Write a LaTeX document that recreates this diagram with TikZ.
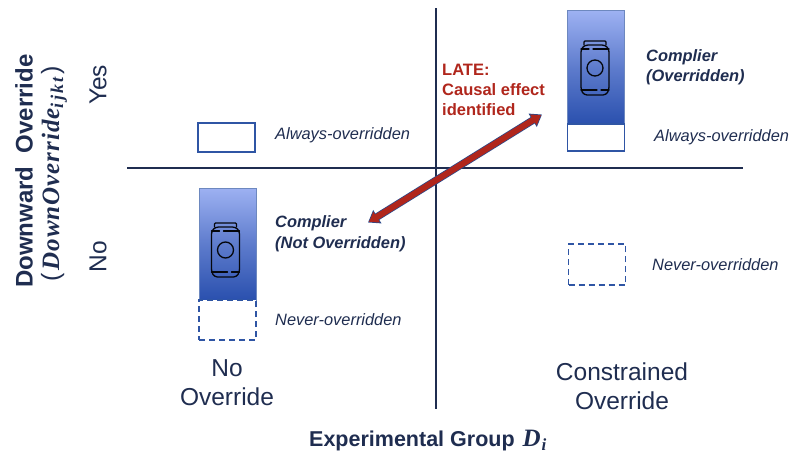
\documentclass[tikz,border=0pt]{standalone}
\usepackage{fontspec}
\setmainfont{Liberation Sans}
\newfontfamily\mathlike[LetterSpace=4]{Liberation Serif}
\newfontfamily\mathsub[LetterSpace=12]{Liberation Serif}
\newfontfamily\mathplain{Liberation Serif}
\usetikzlibrary{arrows.meta}
\definecolor{navy}{HTML}{1F2D50}
\definecolor{boxblue}{HTML}{2F55A4}
\definecolor{latered}{HTML}{B0261C}
\definecolor{gradtop}{HTML}{9DB1F2}
\definecolor{gradbot}{HTML}{2A50AE}
\tikzset{
  axisline/.style={draw=navy,line width=2pt},
  solidbox/.style={draw=boxblue,line width=1.9pt,fill=white,minimum width=57pt,inner sep=0pt,outer sep=0pt},
  dashbox/.style={solidbox,dash pattern=on 6pt off 4pt},
  gradbox/.style={draw=boxblue!70,line width=.7pt,top color=gradtop,bottom color=gradbot,middle color=gradtop!45!gradbot,minimum width=57pt,inner sep=0pt,outer sep=0pt},
  ital/.style={font=\itshape\fontsize{16.4}{19}\selectfont,text=navy,align=left,anchor=west,inner sep=0pt},
  italb/.style={font=\bfseries\itshape\fontsize{16.4}{20.5}\selectfont,text=navy,align=left,anchor=west,inner sep=0pt},
  axlab/.style={font=\fontsize{24.5}{29.5}\selectfont,text=navy,align=center,inner sep=0pt},
  canline/.style={draw=black!85!navy,line width=1.3pt,line cap=round,line join=round},
}
\newcommand{\sodacan}[2]{%
  \begin{scope}[shift={(#1,#2)}]
    \draw[canline,rounded corners=3pt] (-14,-19) -- (-14,22) -- (-11,27) -- (11,27) -- (14,22) -- (14,-19) -- (10,-23) -- (-10,-23) -- cycle;
    \draw[canline,rounded corners=1pt] (-11,-23) -- (-11,-27) -- (11,-27) -- (11,-23);
    \draw[canline] (-14,-19) -- (-6,-19) (-2,-19) -- (14,-19);
    \draw[canline] (-14,22) -- (2,22) (6,22) -- (14,22);
    \draw[canline] (0,0) circle (8);
  \end{scope}}
\begin{document}
\begin{tikzpicture}[x=1pt,y=-1pt]
\useasboundingbox (0,0) rectangle (789,455);
% axes
\coordinate (hL) at (127,168); \coordinate (hR) at (743,168);
\coordinate (vT) at (435.5,8); \coordinate (vB) at (435.5,409);
\draw[axisline] (hL) -- (hR);
\draw[axisline] (vT) -- (vB);
% top right
\node[gradbox,minimum height=113.5pt] (gradTR) at (596,67.5) {};
\node[solidbox,minimum height=27pt] (alwaysTR) at (596,137.5) {};
\sodacan{595}{68}
\node[italb] (compTR) at (646,67.5) {Complier\\(Overridden)};
\node[ital] (alwaysTRlab) at (654,137.5) {Always-overridden};
% top left
\node[solidbox,minimum height=29pt] (alwaysTL) at (226.5,137.5) {};
\node[ital] (alwaysTLlab) at (275,135.5) {Always-overridden};
% bottom left
\node[gradbox,minimum height=112pt] (gradBL) at (227.5,244) {};
\node[dashbox,minimum height=40pt] (neverBL) at (227.5,320) {};
\sodacan{225.5}{250}
\node[italb] (compBL) at (275,234) {Complier\\(Not Overridden)};
\node[ital] (neverBLlab) at (275,320) {Never-overridden};
% bottom right
\node[dashbox,minimum height=41pt] (neverBR) at (597,264.5) {};
\node[ital] (neverBRlab) at (652,264.5) {Never-overridden};
% LATE label
\node[font=\bfseries\fontsize{16.5}{20}\selectfont,text=latered,align=left,anchor=west,inner sep=0pt] (late) at (442,89.5) {LATE:\\Causal effect\\identified};
% arrow
\coordinate (aL) at (368,222.5); \coordinate (aR) at (542,114.5);
\draw[{Triangle[length=11pt,width=15pt]}-{Triangle[length=11pt,width=15pt]},draw=boxblue!70!navy,fill=boxblue!70!navy,line width=7.5pt] (aL) -- (aR);
\draw[{Triangle[length=9pt,width=12pt]}-{Triangle[length=9pt,width=12pt]},draw=latered,fill=latered,line width=6pt,shorten <=1.2pt,shorten >=1.2pt] (aL) -- (aR);
% axis labels
\node[axlab] (no) at (227,382.5) {No\\Override};
\node[axlab] (con) at (622,386) {Constrained\\Override};
\node[font=\bfseries\fontsize{21.5}{25}\selectfont,text=navy,inner sep=0pt,anchor=west] (xlab) at (309,441) {Experimental Group\hspace{2pt} {\mathplain\itshape\fontsize{25}{25}\selectfont D\raisebox{-4pt}{\fontsize{17}{17}\selectfont\hspace{1pt}i}}};
\node[axlab,rotate=90] (yes) at (98,85) {Yes};
\node[axlab,rotate=90] (nolab) at (98,257) {No};
\node[font=\bfseries\fontsize{24}{25}\selectfont,text=navy,rotate=90,inner sep=0pt] (ylab1) at (24,171) {Downward\ \ Override};
\node[font=\bfseries\fontsize{25}{25}\selectfont,text=navy,rotate=90,inner sep=0pt] (ylab2) at (54,174) {{\mdseries(}\hspace{3pt}{\mathlike\itshape DownOverride\raisebox{-4pt}{\mathsub\fontsize{18}{18}\selectfont ijkt}}{\mdseries\hspace{3pt})}};
\end{tikzpicture}
\end{document}
